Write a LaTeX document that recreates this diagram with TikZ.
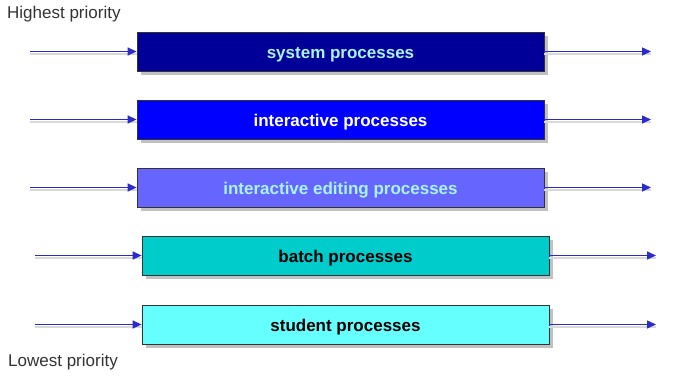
\documentclass[tikz,border=0pt]{standalone}
\usepackage{fontspec}
\setmainfont{Liberation Sans}
\usetikzlibrary{arrows.meta,shadows}
\definecolor{c1}{HTML}{000099}
\definecolor{c2}{HTML}{0000FF}
\definecolor{c3}{HTML}{6666FF}
\definecolor{c4}{HTML}{00CCCC}
\definecolor{c5}{HTML}{66FFFF}
\definecolor{lighttxt}{HTML}{A8F4FF}
\definecolor{arr}{HTML}{2B2BCC}
\tikzset{
  procbox/.style={draw=black!80, line width=0.8pt, minimum width=407pt, minimum height=39pt,
    inner sep=0pt, font=\fontsize{17}{20}\selectfont\bfseries,
    text height=14pt, text depth=1pt,
    drop shadow={shadow xshift=4pt, shadow yshift=-4pt, fill=black!30, opacity=0.8}},
  flow/.style={draw=arr, line width=1.4pt, -{Triangle[length=9pt,width=8pt]},
    preaction={draw=black!15, line width=2pt, transform canvas={yshift=-2pt}, arrows=-}},
  prio/.style={font=\fontsize{17}{20}\selectfont, text=black!80, inner sep=0pt, anchor=west}
}
\begin{document}
\begin{tikzpicture}[x=1pt,y=-1pt]
\useasboundingbox (0,0) rectangle (674,378);
\node[prio] (hi) at (7,14) {Highest priority};
\node[prio] (lo) at (8,362) {Lowest priority};

\node[procbox, fill=c1, text=lighttxt] (b1) at (340.5,51.5) {system processes};
\node[procbox, fill=c2, text=white] (b2) at (340.5,119.5) {interactive processes};
\node[procbox, fill=c3, text=lighttxt] (b3) at (340.5,187.5) {interactive editing processes};
\node[procbox, fill=c4, text=black] (b4) at (345.5,255.5) {batch processes};
\node[procbox, fill=c5, text=black] (b5) at (345.5,324.5) {student processes};

\coordinate (i1) at (30,51.5);  \coordinate (o1) at (651,51.5);
\coordinate (i2) at (30,119.5); \coordinate (o2) at (651,119.5);
\coordinate (i3) at (30,187.5); \coordinate (o3) at (651,187.5);
\coordinate (i4) at (35,255.5); \coordinate (o4) at (656,255.5);
\coordinate (i5) at (35,324.5); \coordinate (o5) at (656,324.5);

\foreach \k in {1,...,5}{
  \draw[flow] (i\k) -- (b\k.west);
  \draw[flow] (b\k.east) -- (o\k);
}
\end{tikzpicture}
\end{document}
